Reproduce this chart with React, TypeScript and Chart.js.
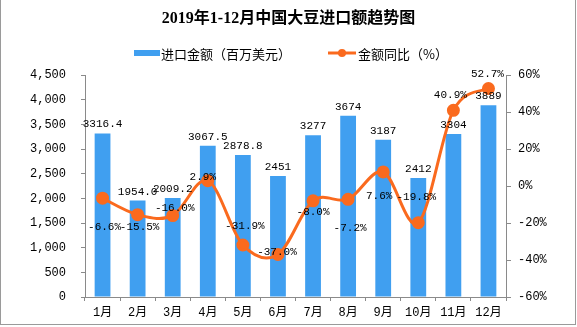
import React, { useEffect, useRef } from "react";
import { Chart, registerables } from "chart.js";

Chart.register(...registerables);

const title = "2019年1-12月中国大豆进口额趋势图";
const categories = ["1月", "2月", "3月", "4月", "5月", "6月", "7月", "8月", "9月", "10月", "11月", "12月"];
const importValues = [3316.4, 1954.0, 2009.2, 3067.5, 2878.8, 2451, 3277, 3674, 3187, 2412, 3304, 3889];
const importLabels = ["3316.4", "1954.0", "2009.2", "3067.5", "2878.8", "2451", "3277", "3674", "3187", "2412", "3304", "3889"];
const yoyValues = [-6.6, -15.5, -16.0, 2.9, -31.9, -37.0, -8.0, -7.2, 7.6, -19.8, 40.9, 52.7];
const seriesNames = ["进口金额（百万美元）", "金额同比（%）"];
const leftTicks = { min: 0, max: 4500, step: 500 };
const rightTicks = { min: -60, max: 60, step: 20 };
// label placement offsets (dx, dy) relative to each line point
const lineLabelOffsets = [
  [2, 29], [2, 12], [2, -8], [-5, -4], [2, -19], [-1, -2],
  [0, 11], [2, 29], [-4, 24], [-2, -26], [-3, -15], [-1, -14],
];

const BLUE = "#409FF0";
const ORANGE = "#FA6A1E";
const AXIS = "#8a8a8a";
const NUM_FONT = "'Liberation Mono', 'Noto Sans CJK SC', monospace";

// Excel-like (uniform Catmull-Rom) smoothing of the line
const smoothPlugin = {
  id: "smooth",
  afterDatasetsUpdate(chart: any) {
    const meta = chart.getDatasetMeta(1);
    const pts = meta.data;
    const n = pts.length;
    for (let i = 0; i < n; i++) {
      const p = pts[i];
      const prev = pts[Math.max(0, i - 1)];
      const next = pts[Math.min(n - 1, i + 1)];
      const tx = (next.x - prev.x) / 6;
      const ty = (next.y - prev.y) / 6;
      p.cp1x = p.x - tx;
      p.cp1y = p.y - ty;
      p.cp2x = p.x + tx;
      p.cp2y = p.y + ty;
    }
    if (meta.dataset) meta.dataset._pointsUpdated = true;
  },
};

const overlayPlugin = {
  id: "overlay",
  afterDatasetsDraw(chart: any) {
    const ctx = chart.ctx;
    ctx.save();
    ctx.fillStyle = "#000";
    ctx.textAlign = "center";
    ctx.textBaseline = "middle";
    ctx.font = `11px ${NUM_FONT}`;
    const barMeta = chart.getDatasetMeta(0);
    barMeta.data.forEach((el: any, i: number) => {
      ctx.fillText(importLabels[i], el.x, el.y - 9);
    });
    const lineMeta = chart.getDatasetMeta(1);
    lineMeta.data.forEach((el: any, i: number) => {
      const [dx, dy] = lineLabelOffsets[i];
      ctx.fillText(yoyValues[i].toFixed(1) + "%", el.x + dx, el.y + dy);
    });
    ctx.restore();
  },
  afterDraw(chart: any) {
    const ctx = chart.ctx;
    const W = chart.width;
    ctx.save();
    // title
    ctx.fillStyle = "#000";
    ctx.textAlign = "center";
    ctx.textBaseline = "middle";
    ctx.font = "bold 16px 'Liberation Serif', 'Noto Sans CJK SC', serif";
    ctx.fillText(title, W / 2, 19);
    // legend
    const ly = 53;
    ctx.font = "13px 'Noto Sans CJK SC', sans-serif";
    ctx.textAlign = "left";
    ctx.fillStyle = BLUE;
    ctx.fillRect(134, ly - 3, 26, 6);
    ctx.fillStyle = "#000";
    ctx.fillText(seriesNames[0], 161, ly + 1);
    ctx.strokeStyle = ORANGE;
    ctx.lineWidth = 3;
    ctx.beginPath();
    ctx.moveTo(328, ly);
    ctx.lineTo(356, ly);
    ctx.stroke();
    ctx.fillStyle = ORANGE;
    ctx.beginPath();
    ctx.arc(342, ly, 4, 0, Math.PI * 2);
    ctx.fill();
    ctx.fillStyle = "#000";
    ctx.fillText(seriesNames[1], 358, ly + 1);
    // outer frame
    ctx.strokeStyle = "#9a9a9a";
    ctx.lineWidth = 1;
    ctx.strokeRect(0.5, -2, W - 2, chart.height + 1.5 - 2);
    ctx.restore();
  },
};

export default function App() {
  const ref = useRef<HTMLCanvasElement | null>(null);
  useEffect(() => {
    if (!ref.current) return;
    const chart = new Chart(ref.current, {
      type: "bar",
      data: {
        labels: categories,
        datasets: [
          {
            type: "bar",
            label: seriesNames[0],
            data: importValues,
            backgroundColor: BLUE,
            yAxisID: "y",
            barPercentage: 0.45,
            categoryPercentage: 1,
            order: 2,
          },
          {
            type: "line",
            label: seriesNames[1],
            data: yoyValues,
            borderColor: ORANGE,
            backgroundColor: ORANGE,
            borderWidth: 3,
            pointRadius: 5,
            pointBackgroundColor: ORANGE,
            pointBorderColor: ORANGE,
            tension: 0.4,
            yAxisID: "y1",
            order: 1,
          } as any,
        ],
      },
      options: {
        responsive: false,
        animation: false,
        layout: { padding: { top: 75, left: 0, right: 0, bottom: 0 } },
        plugins: { legend: { display: false }, title: { display: false }, tooltip: { enabled: false } },
        scales: {
          x: {
            grid: { display: true, drawOnChartArea: false, offset: true, tickLength: 4, color: AXIS },
            border: { display: true, color: AXIS },
            ticks: { color: "#000", font: { family: NUM_FONT, size: 12 }, padding: 5, maxRotation: 0, autoSkip: false },
            afterFit: (s: any) => { s.height = 30; },
          },
          y: {
            position: "left",
            min: leftTicks.min,
            max: leftTicks.max,
            grid: { display: true, drawOnChartArea: false, tickLength: 4, color: AXIS },
            border: { display: true, color: AXIS },
            ticks: {
              stepSize: leftTicks.step,
              color: "#000",
              font: { family: NUM_FONT, size: 12 },
              padding: 15,
              callback: (v: any) => Number(v).toLocaleString("en-US"),
            },
            afterFit: (s: any) => { s.width = 85; },
          },
          y1: {
            position: "right",
            min: rightTicks.min,
            max: rightTicks.max,
            grid: { display: true, drawOnChartArea: false, tickLength: 5, color: AXIS },
            border: { display: true, color: AXIS },
            ticks: {
              stepSize: rightTicks.step,
              color: "#000",
              font: { family: NUM_FONT, size: 12 },
              padding: 7,
              callback: (v: any) => v + "%",
            },
            afterFit: (s: any) => { s.width = 71; },
          },
        },
      },
      plugins: [smoothPlugin, overlayPlugin],
    });
    return () => chart.destroy();
  }, []);
  return (
    <div style={{ position: "absolute", left: 0, top: 0, width: 577, height: 327, background: "#fff" }}>
      <canvas ref={ref} width={577} height={327} style={{ display: "block" }} />
    </div>
  );
}
